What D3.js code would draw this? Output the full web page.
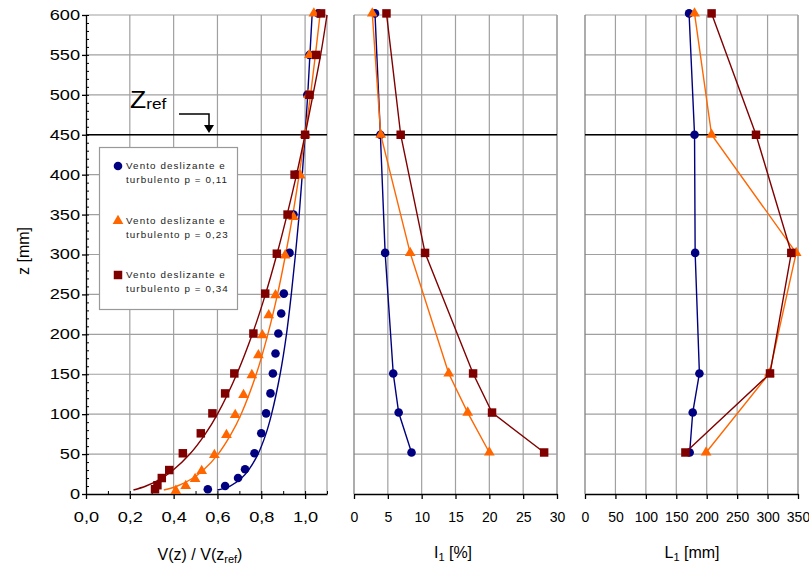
<!DOCTYPE html>
<html>
<head>
<meta charset="utf-8">
<script src="https://cdn.jsdelivr.net/npm/d3@7"></script>
<style>
  body { margin: 0; background: #fff; }
  svg { display: block; font-family: "Liberation Sans", Arial, sans-serif; }
</style>
</head>
<body>
<svg id="chart" width="809" height="566"></svg>
<script>
// ---- data ----
// left panel : V(z)/V(zref) measured points
var zV11 = [6, 10, 20, 31, 51, 76, 101, 126, 151, 176, 201, 226, 251, 302, 350, 400, 450, 500, 550, 602];
var v11  = [0.556, 0.635, 0.694, 0.726, 0.769, 0.80, 0.822, 0.842, 0.853, 0.865, 0.878, 0.891, 0.903, 0.929, 0.947, 0.96, 1.0, 1.01, 1.02, 1.06];
var zV23 = [4, 10, 19, 29, 49, 74, 99, 124, 149, 174, 199, 224, 249, 299, 347, 399, 450, 500, 550, 602];
var v23  = [0.41, 0.455, 0.498, 0.528, 0.586, 0.641, 0.681, 0.719, 0.757, 0.787, 0.805, 0.834, 0.865, 0.909, 0.947, 0.978, 1.0, 1.015, 1.02, 1.04];
var zV34 = [6, 11, 20, 30, 51, 76, 101, 126, 151, 201, 251, 301, 350, 400, 450, 500, 550, 602];
var v34  = [0.315, 0.326, 0.346, 0.38, 0.442, 0.524, 0.577, 0.635, 0.677, 0.764, 0.818, 0.871, 0.92, 0.952, 1.0, 1.02, 1.051, 1.073];

// left panel : fitted profiles
var zFit   = [5, 10, 20, 30, 50, 75, 100, 150, 200, 250, 300, 350, 400, 450, 500, 550, 600];
var fit11  = [0.60, 0.658, 0.71, 0.742, 0.785, 0.821, 0.847, 0.886, 0.915, 0.937, 0.956, 0.973, 0.987, 1.0, 1.012, 1.022, 1.032];
var fit23  = [0.355, 0.417, 0.489, 0.536, 0.603, 0.662, 0.708, 0.777, 0.83, 0.874, 0.911, 0.944, 0.973, 1.0, 1.025, 1.047, 1.068];
var fit34  = [0.2165, 0.274, 0.347, 0.398, 0.474, 0.544, 0.60, 0.688, 0.759, 0.819, 0.871, 0.918, 0.961, 1.0, 1.036, 1.071, 1.10];

// middle panel : I1 [%]
var zI  = [52, 102, 151, 302, 450, 602];
var i11 = [8.5, 6.6, 5.8, 4.6, 3.9, 3.1];
var i23 = [20.0, 16.8, 14.0, 8.3, 3.95, 2.7];
var i34 = [28.1, 20.4, 17.6, 10.5, 6.9, 4.8];

// right panel : L1 [mm]
var zL11 = [52, 102, 151, 302, 450, 602];
var l11  = [172, 177, 188, 181, 180, 171];
var zL   = [52, 151, 302, 450, 602];
var l23  = [199, 303, 347, 208, 180];
var l34  = [165, 304, 339, 281, 208];

var zTicks = d3.range(0, 601, 50);
var vTicks = [0, 0.2, 0.4, 0.6, 0.8, 1.0];
var iTicks = [0, 5, 10, 15, 20, 25, 30];
var lTicks = [0, 50, 100, 150, 200, 250, 300, 350];

var legendLabels = ["turbulento p = 0,11", "turbulento p = 0,23", "turbulento p = 0,34"];

var BLUE = "#000080", ORANGE = "#ff6600", RED = "#800000";
var GRID = "#a0a0a0";

var svg = d3.select("#chart");

var y = d3.scaleLinear().domain([0, 600]).range([494, 15]);

var xV = d3.scaleLinear().domain([0, 1.1]).range([86, 327]);
var xI = d3.scaleLinear().domain([0, 30]).range([354, 557]);
var xL = d3.scaleLinear().domain([0, 350]).range([585, 798]);

// grid for a panel
function grid(x, xt, leftColor) {
  var g = svg.append("g");
  var x0 = x.range()[0], x1 = x.range()[1];
  g.selectAll(".h").data(zTicks.filter(function(d) { return d > 0; }))
    .enter().append("line")
    .attr("x1", x0).attr("x2", x1)
    .attr("y1", function(d) { return y(d); }).attr("y2", function(d) { return y(d); })
    .attr("stroke", GRID).attr("stroke-width", 1.2);
  g.selectAll(".v").data(xt.filter(function(d) { return d > 0; }).concat([x.domain()[1]]))
    .enter().append("line")
    .attr("x1", function(d) { return x(d); }).attr("x2", function(d) { return x(d); })
    .attr("y1", y(0)).attr("y2", y(600))
    .attr("stroke", GRID).attr("stroke-width", 1.2);
  if (leftColor) {
    g.append("line").attr("x1", x0).attr("x2", x0).attr("y1", y(0)).attr("y2", y(600))
      .attr("stroke", leftColor).attr("stroke-width", 1.3);
  }
  // z_ref line
  g.append("line").attr("x1", x0).attr("x2", x1).attr("y1", y(450)).attr("y2", y(450))
    .attr("stroke", "#000").attr("stroke-width", 1.5);
}

grid(xV, vTicks, null);
grid(xI, iTicks, "#808080");
grid(xL, lTicks, "#808080");

function styleAxis(g) {
  g.selectAll("path, line").attr("stroke", "#000").attr("stroke-width", 1.3);
  g.selectAll("text").attr("fill", "#000").style("font-size", "14px")
    .style("font-family", "'Liberation Sans', Arial, sans-serif");
}

// left panel axes
var gy = svg.append("g").attr("transform", "translate(86,0)")
  .call(d3.axisLeft(y).tickValues(zTicks).tickSize(4).tickSizeOuter(0).tickPadding(2));
styleAxis(gy);
gy.selectAll("text").attr("x", -6 / 1.3).attr("transform", "scale(1.3,1)");
svg.append("g").attr("transform", "translate(86,0)")
  .call(d3.axisRight(y).tickValues(d3.range(0, 601, 10)).tickSize(3).tickFormat(""))
  .call(function(g) { g.select(".domain").remove(); g.selectAll("line").attr("stroke", "#000"); });

var gxV = svg.append("g").attr("transform", "translate(0,494)")
  .call(d3.axisBottom(xV).tickValues(vTicks).tickSize(5).tickSizeOuter(0).tickPadding(13)
    .tickFormat(function(d) { return d.toFixed(1).replace(".", ","); }));
styleAxis(gxV);
gxV.selectAll("text").attr("transform", "scale(1.3,1)");
svg.append("g").attr("transform", "translate(0,494)")
  .call(d3.axisTop(xV).tickValues(d3.range(0.1, 1.15, 0.1)).tickSize(3).tickFormat(""))
  .call(function(g) { g.select(".domain").remove(); g.selectAll("line").attr("stroke", "#000"); });

// middle / right bottom axes
var gxI = svg.append("g").attr("transform", "translate(0,494)")
  .call(d3.axisBottom(xI).tickValues(iTicks).tickSize(5).tickSizeOuter(0).tickPadding(13));
styleAxis(gxI);
var gxL = svg.append("g").attr("transform", "translate(0,494)")
  .call(d3.axisBottom(xL).tickValues(lTicks).tickSize(5).tickSizeOuter(0).tickPadding(13));
styleAxis(gxL);

// markers
var symCircle = d3.symbol().type(d3.symbolCircle).size(58);
var symTri = d3.symbol().type(d3.symbolTriangle).size(50);
var symSq = d3.symbol().type(d3.symbolSquare).size(72);

function marks(x, xs, zs, sym, color) {
  svg.append("g").selectAll("path").data(xs).enter().append("path")
    .attr("d", sym)
    .attr("transform", function(d, i) { return "translate(" + x(d) + "," + y(zs[i]) + ")"; })
    .attr("fill", color);
}
function polyline(x, xs, zs, color, curve) {
  var line = d3.line()
    .x(function(d) { return x(d); })
    .y(function(d, i) { return y(zs[i]); })
    .curve(curve || d3.curveLinear);
  svg.append("path").attr("d", line(xs)).attr("fill", "none")
    .attr("stroke", color).attr("stroke-width", 1.4);
}

// left panel
polyline(xV, fit11, zFit, BLUE, d3.curveCatmullRom);
polyline(xV, fit23, zFit, ORANGE, d3.curveCatmullRom);
polyline(xV, fit34, zFit, RED, d3.curveCatmullRom);
marks(xV, v11, zV11, symCircle, BLUE);
marks(xV, v23, zV23, symTri, ORANGE);
marks(xV, v34, zV34, symSq, RED);

// middle panel
polyline(xI, i11, zI, BLUE);
marks(xI, i11, zI, symCircle, BLUE);
polyline(xI, i23, zI, ORANGE);
marks(xI, i23, zI, symTri, ORANGE);
polyline(xI, i34, zI, RED);
marks(xI, i34, zI, symSq, RED);

// right panel
polyline(xL, l11, zL11, BLUE);
marks(xL, l11, zL11, symCircle, BLUE);
polyline(xL, l23, zL, ORANGE);
marks(xL, l23, zL, symTri, ORANGE);
polyline(xL, l34, zL, RED);
marks(xL, l34, zL, symSq, RED);

// legend
svg.append("rect").attr("x", 99.5).attr("y", 147.5).attr("width", 138).attr("height", 162)
  .attr("fill", "#fff").attr("stroke", "#999").attr("stroke-width", 1.2);
var legSyms = [symCircle, symTri, symSq];
var legCols = [BLUE, ORANGE, RED];
var legY = [166, 221, 275];
legSyms.forEach(function(s, i) {
  svg.append("path").attr("d", s).attr("fill", legCols[i])
    .attr("transform", "translate(118," + legY[i] + ")");
  var t = svg.append("text").attr("x", 126).attr("y", legY[i] + 3)
    .attr("fill", "#222").style("font-size", "9.8px").style("letter-spacing", "1.1px");
  t.append("tspan").attr("x", 126).text("Vento deslizante e");
  t.append("tspan").attr("x", 126).attr("dy", 14).text(legendLabels[i]);
});

// z_ref annotation
var zr = svg.append("text").attr("transform", "translate(130,108) scale(1.15,1)").attr("fill", "#000");
zr.append("tspan").style("font-size", "23px").text("Z");
zr.append("tspan").style("font-size", "15px").attr("dy", 1).text("ref");
svg.append("path").attr("d", "M179,114H209V126").attr("fill", "none").attr("stroke", "#000").attr("stroke-width", 1.5);
svg.append("path").attr("d", "M204,125L214,125L209,133Z").attr("fill", "#000");

// axis titles
svg.append("text").attr("transform", "translate(29,251) rotate(-90)").attr("text-anchor", "middle")
  .style("font-size", "16px").text("z [mm]");

var tV = svg.append("text").attr("x", 200).attr("y", 560).attr("text-anchor", "middle").style("font-size", "16px");
tV.append("tspan").text("V(z) / V(z");
tV.append("tspan").style("font-size", "11px").attr("dy", 3).text("ref");
tV.append("tspan").attr("dy", -3).text(")");

var tI = svg.append("text").attr("x", 453).attr("y", 558).attr("text-anchor", "middle").style("font-size", "16px");
tI.append("tspan").text("I");
tI.append("tspan").style("font-size", "11px").attr("dy", 3).text("1");
tI.append("tspan").attr("dy", -3).text(" [%]");

var tL = svg.append("text").attr("x", 692).attr("y", 558).attr("text-anchor", "middle").style("font-size", "16px");
tL.append("tspan").text("L");
tL.append("tspan").style("font-size", "11px").attr("dy", 3).text("1");
tL.append("tspan").attr("dy", -3).text(" [mm]");
</script>
</body>
</html>
